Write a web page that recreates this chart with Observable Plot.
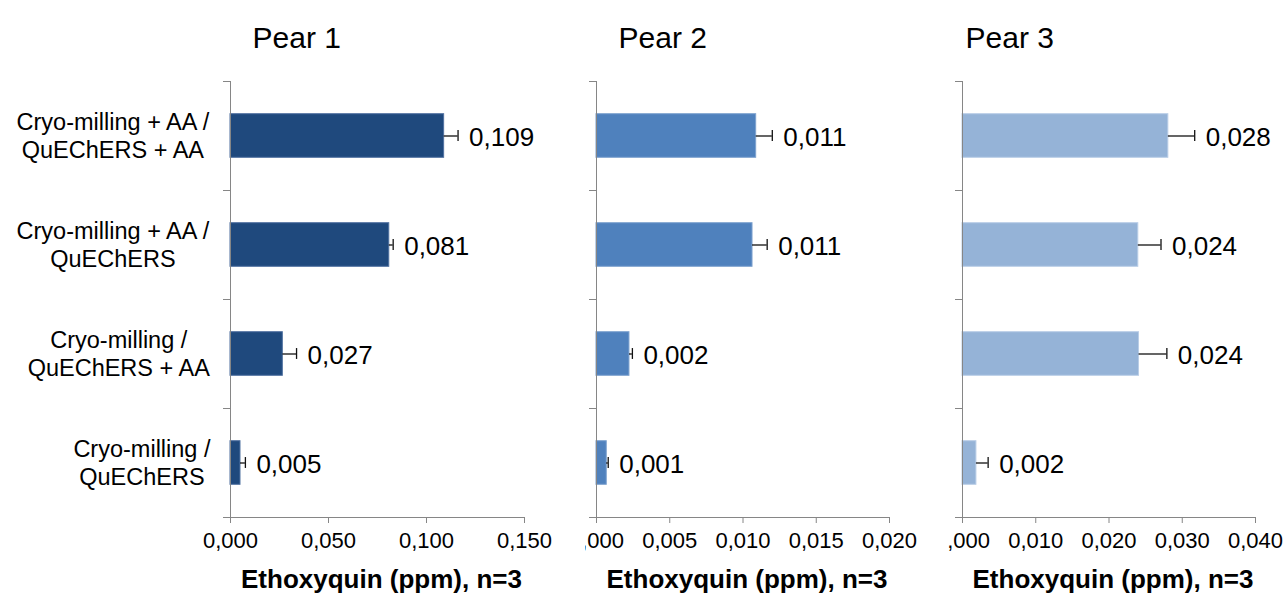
<!DOCTYPE html>
<html>
<head>
<meta charset="utf-8">
<script src="https://cdn.jsdelivr.net/npm/d3@7"></script>
<script src="https://cdn.jsdelivr.net/npm/@observablehq/plot@0.6"></script>
<style>
  body { margin: 0; background: #fff; }
  #wrap { position: relative; width: 1287px; height: 596px; background: #fff; }
  #wrap svg { position: absolute; top: 0; overflow: hidden; }
</style>
</head>
<body>
<div id="wrap"></div>
<script>
// ---- data ----
const categories = [
  "Cryo-milling + AA /\nQuEChERS + AA",
  "Cryo-milling + AA /\nQuEChERS",
  "Cryo-milling /\nQuEChERS + AA",
  "Cryo-milling /\nQuEChERS"
];
const panelTitles = ["Pear 1", "Pear 2", "Pear 3"];
const pear1Values = [0.1090, 0.0810, 0.0267, 0.0051];
const pear1Errors = [0.0071, 0.0020, 0.0070, 0.0025];
const pear2Values = [0.0109, 0.01065, 0.00225, 0.0007];
const pear2Errors = [0.0011, 0.0010, 0.0002, 0.0001];
const pear3Values = [0.0281, 0.0240, 0.0241, 0.0019];
const pear3Errors = [0.0036, 0.0031, 0.0038, 0.0016];
const pear1Ticks = [0, 0.05, 0.10, 0.15];
const pear2Ticks = [0, 0.005, 0.010, 0.015, 0.020];
const pear3Ticks = [0, 0.010, 0.020, 0.030, 0.040];
const xLabel = "Ethoxyquin (ppm), n=3";

// ---- layout / style ----
const fmt = d => d3.format(".3f")(d).replace(".", ",");
const FONT = "'Liberation Sans', Arial, sans-serif";
const H = 596, MT = 81, MB = 79;
const AXIS_GRAY = "#868686";

const panels = [
  {values: pear1Values, errors: pear1Errors, ticks: pear1Ticks, domain: [0, 0.15],
   left: 0, width: 560, ml: 230, mr: 36, titleDx: 22, fill: "#1F497D", stroke: "#5071a0", cats: true},
  {values: pear2Values, errors: pear2Errors, ticks: pear2Ticks, domain: [0, 0.02],
   left: 585, width: 340, ml: 11, mr: 36, titleDx: 22, fill: "#4F81BD", stroke: "#7da2cf", cats: false},
  {values: pear3Values, errors: pear3Errors, ticks: pear3Ticks, domain: [0, 0.04],
   left: 947, width: 340, ml: 15, mr: 32, titleDx: 3, fill: "#95B3D7", stroke: "#b9cde6", cats: false}
];

const ctx = document.createElement("canvas").getContext("2d");
const CAT_FS = 23.5;
ctx.font = `${CAT_FS}px 'Liberation Sans'`;

const wrap = document.getElementById("wrap");

panels.forEach((p, k) => {
  const data = p.values.map((v, i) => ({i, value: v, err: p.errors[i]}));
  const marks = [
    Plot.rect(data, {x1: 0, x2: "value", y1: d => d.i + 0.3, y2: d => d.i + 0.7,
      fill: p.fill, stroke: p.stroke, strokeWidth: 1}),
    Plot.ruleY(data, {y: d => d.i + 0.5, x1: "value", x2: d => d.value + d.err, stroke: "#111", strokeWidth: 1.3}),
    Plot.ruleX(data, {x: d => d.value + d.err, y1: d => d.i + 0.45, y2: d => d.i + 0.55, stroke: "#111", strokeWidth: 1.3}),
    Plot.text(data, {x: d => d.value + d.err, y: d => d.i + 0.5, text: d => fmt(d.value),
      textAnchor: "start", lineAnchor: "middle", dx: 11, dy: 2, fontSize: 26, fill: "#000"}),
    Plot.ruleX([0], {stroke: AXIS_GRAY}),
    Plot.ruleY([4], {stroke: AXIS_GRAY}),
    Plot.axisY({ticks: [0, 1, 2, 3, 4], tickFormat: () => "", tickSize: 7, stroke: AXIS_GRAY, label: null}),
    Plot.axisX({ticks: p.ticks, tickFormat: fmt, tickSize: 6, tickPadding: 9, fontSize: 22,
      stroke: AXIS_GRAY, fill: "#000", label: null}),
    Plot.text([panelTitles[k]], {frameAnchor: "top-left", dx: p.titleDx, dy: -34,
      textAnchor: "start", lineAnchor: "bottom", fontSize: 30, fill: "#000"}),
    Plot.text([xLabel], {frameAnchor: "bottom", dx: 4, dy: 70, lineAnchor: "bottom",
      fontSize: 26, fontWeight: "bold", fill: "#000"})
  ];
  if (p.cats) {
    categories.forEach((c, i) => {
      const w = Math.max(...c.split("\n").map(l => ctx.measureText(l).width));
      marks.push(Plot.text([c], {y: () => i + 0.5, frameAnchor: "left", text: d => d,
        textAnchor: "middle", lineAnchor: "bottom", lineHeight: 1.19, dx: -20 - w / 2, dy: 22,
        fontSize: CAT_FS, fill: "#000"}));
    });
  }
  const svg = Plot.plot({
    width: p.width, height: H,
    marginLeft: p.ml, marginRight: p.mr, marginTop: MT, marginBottom: MB,
    x: {domain: p.domain},
    y: {domain: [0, 4], reverse: true},
    style: {fontFamily: FONT, fontSize: "22px", background: "transparent", color: "#000"},
    marks
  });
  svg.style.left = p.left + "px";
  wrap.appendChild(svg);
});
</script>
</body>
</html>
